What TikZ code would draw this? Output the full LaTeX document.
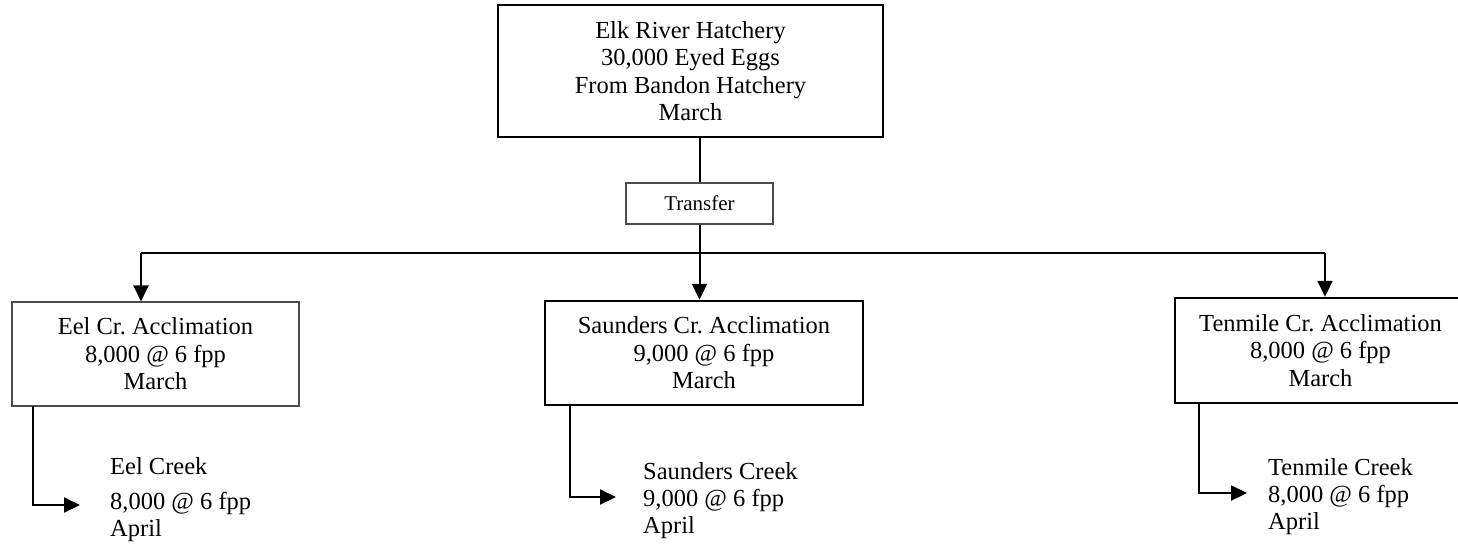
\documentclass[tikz,border=0pt]{standalone}
\usepackage{fontspec}
\setmainfont{Liberation Serif}
\usetikzlibrary{arrows.meta}
\frenchspacing
\begin{document}
\begin{tikzpicture}[x=1pt,y=-1pt,
  boxtxt/.style={font=\fontsize{24.5}{27.5}\selectfont, align=center, inner sep=0pt},
  thickbox/.style={boxtxt, draw=black, line width=2.4pt},
  thinbox/.style={boxtxt, draw=black!70, line width=1.1pt},
  relname/.style={font=\fontsize{24.5}{27}\selectfont, align=left, inner sep=0pt, anchor=north west},
  conn/.style={line width=2pt, draw=black},
  arr/.style={conn, -{Triangle[width=15pt,length=16pt]}}
]
\useasboundingbox (0,0) rectangle (1458,549);
\clip (0,0) rectangle (1458,549);
\fill[white] (0,0) rectangle (1458,549);

% boxes
\node[thickbox, minimum width=385pt, minimum height=132pt] (top) at (690.5,71)
  {Elk River Hatchery\\30,000 Eyed Eggs\\From Bandon Hatchery\\March};
\node[thinbox, minimum width=147pt, minimum height=41pt,
  font=\fontsize{21}{24}\selectfont] (transfer) at (699.5,203.5) {Transfer};
\node[thinbox, minimum width=287pt, minimum height=104pt] (eel) at (155.5,354)
  {Eel Cr. Acclimation\\8,000 @ 6 fpp\\March};
\node[thickbox, minimum width=318pt, minimum height=104pt] (sau) at (704,353)
  {Saunders Cr. Acclimation\\9,000 @ 6 fpp\\March};
\node[thickbox, minimum width=291pt, minimum height=105pt] (ten) at (1320.5,350.5)
  {Tenmile Cr. Acclimation\\8,000 @ 6 fpp\\March};

% release texts
\node[relname] (eelc) at (110,457) {Eel Creek\\[8pt]8,000 @ 6 fpp\\April};
\node[relname] (sauc) at (643,462) {Saunders Creek\\9,000 @ 6 fpp\\April};
\node[relname] (tenc) at (1268,458) {Tenmile Creek\\8,000 @ 6 fpp\\April};

% connectors
\coordinate (bus) at (699.5,253);
\coordinate (busL) at (141,253);
\coordinate (busR) at (1325,253);
\draw[conn] (top.south -| transfer.north) -- (transfer.north);
\draw[conn] (transfer.south) -- (bus);
\draw[arr] (bus) -- (bus |- sau.north);
\draw[conn] (busL) -- (busR);
\draw[arr] (busL) -- (busL |- eel.north);
\draw[arr] (busR) -- (busR |- ten.north);

\coordinate (eelS) at (33,406);
\coordinate (eelT) at (80,505);
\coordinate (sauS) at (570,405);
\coordinate (sauT) at (616,497);
\coordinate (tenS) at (1199,403);
\coordinate (tenT) at (1247,493);
\draw[arr] (eelS) |- (eelT);
\draw[arr] (sauS) |- (sauT);
\draw[arr] (tenS) |- (tenT);
\end{tikzpicture}
\end{document}
